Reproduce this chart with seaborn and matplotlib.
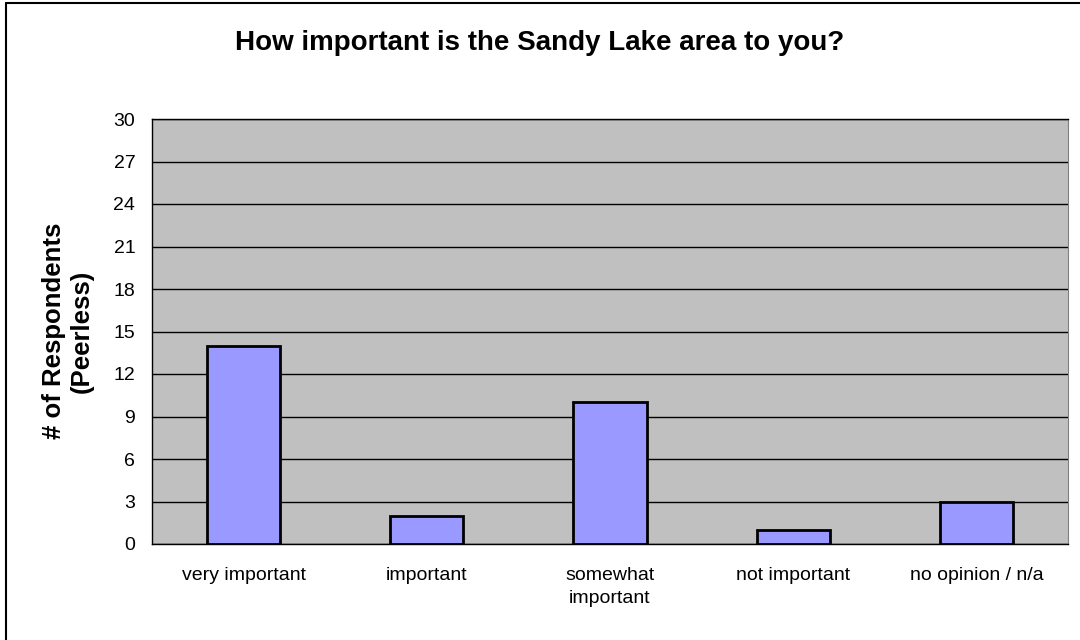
import matplotlib
matplotlib.use("Agg")
import matplotlib.pyplot as plt
from matplotlib.lines import Line2D
from matplotlib.ticker import MultipleLocator, FixedLocator
import seaborn as sns
import pandas as pd

# survey answers and counts
categories = ["very important", "important", "somewhat\nimportant", "not important", "no opinion / n/a"]
respondents = [14, 2, 10, 1, 3]
y_ticks = list(range(0, 31, 3))

sns.set_style("white")
plt.rcParams["font.family"] = ["Liberation Sans", "DejaVu Sans"]
plt.rcParams["text.color"] = "black"
plt.rcParams["xtick.color"] = "black"
plt.rcParams["ytick.color"] = "black"
plt.rcParams["axes.labelcolor"] = "black"

df = pd.DataFrame({"answer": categories, "count": respondents})

fig = plt.figure(figsize=(10.8, 6.4), dpi=100)
W, H = 1080, 640
ax = fig.add_axes([152 / W, (H - 544) / H, (1068 - 152) / W, (544 - 119) / H])
ax.set_facecolor("#C0C0C0")

sns.barplot(data=df, x="answer", y="count", color="#9999FF", saturation=1,
            width=0.4, edgecolor="black", linewidth=2, ax=ax, zorder=3)

ax.set_ylim(0, 30)
ax.set_xlim(-0.5, len(categories) - 0.5)
ax.yaxis.set_major_locator(FixedLocator(y_ticks))
ax.grid(axis="y", color="black", linewidth=1, zorder=0)
ax.set_axisbelow(True)

# tick marks between categories, labels centred under the bars
ax.xaxis.set_minor_locator(MultipleLocator(1, offset=0.5))
ax.tick_params(axis="x", which="major", length=0, pad=16.5, labelsize=14)
ax.tick_params(axis="x", which="minor", length=5, width=1, direction="out")
ax.tick_params(axis="y", length=5, width=1, direction="out", labelsize=14, pad=7)
for lbl in ax.get_xticklabels():
    lbl.set_linespacing(1.5)

for side in ["left", "bottom", "top"]:
    ax.spines[side].set_color("black")
    ax.spines[side].set_linewidth(1)
ax.spines["right"].set_color("#808080")

ax.set_xlabel("")
ax.set_ylabel("")
fig.text(68 / W, 1 - 331 / H, "# of Respondents\n(Peerless)", rotation=90,
         ha="center", va="center", multialignment="center",
         fontsize=18.5, fontweight="bold")

fig.text(0.5, 1 - 43 / H, "How important is the Sandy Lake area to you?",
         ha="center", va="center", fontsize=20, fontweight="bold")

# chart border (only top and left edges visible in the crop)
x0, y0 = 6 / W, 1 - 3 / H
fig.add_artist(Line2D([x0, x0], [0, y0], color="black", linewidth=1.5, transform=fig.transFigure))
fig.add_artist(Line2D([x0, 1], [y0, y0], color="black", linewidth=1.5, transform=fig.transFigure))

fig.savefig("out.png", dpi=100)
